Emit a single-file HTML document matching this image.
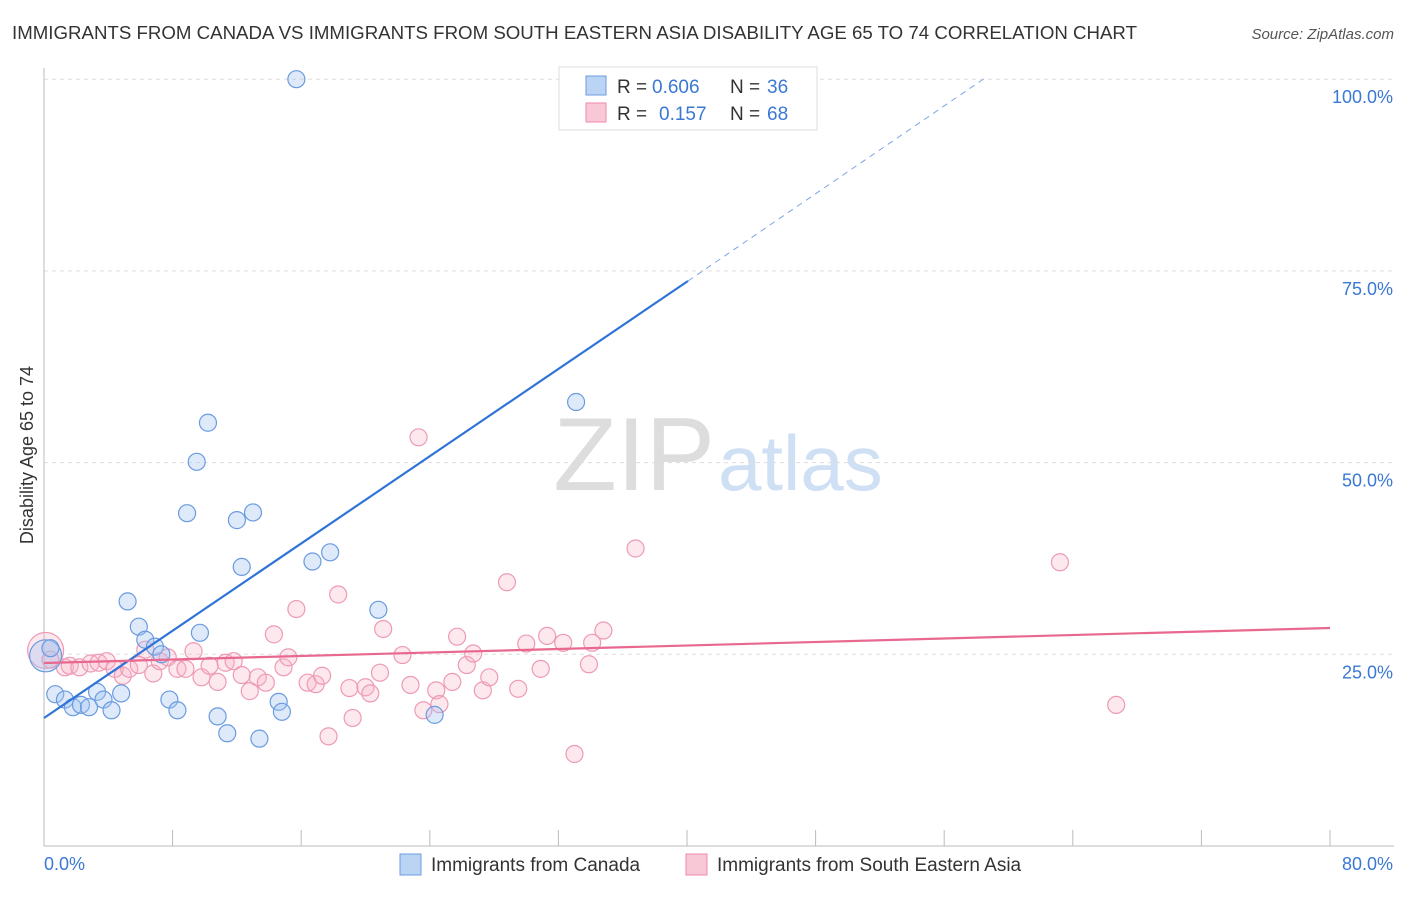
<!DOCTYPE html>
<html><head><meta charset="utf-8"><style>
body{margin:0;background:#fff;font-family:"Liberation Sans",sans-serif;}
svg text{font-family:"Liberation Sans",sans-serif;}
</style></head><body>
<svg id="chart" width="1406" height="892">
<text x="12" y="39" font-size="18" fill="#333" textLength="1125" lengthAdjust="spacingAndGlyphs">IMMIGRANTS FROM CANADA VS IMMIGRANTS FROM SOUTH EASTERN ASIA DISABILITY AGE 65 TO 74 CORRELATION CHART</text>
<text x="1394" y="39" font-size="15" fill="#555" font-style="italic" text-anchor="end">Source: ZipAtlas.com</text>
<text x="715" y="490" font-size="104" fill="#ddd" text-anchor="end" font-family="Liberation Serif">ZIP</text>
<text x="718" y="490" font-size="78" fill="#cfe0f5">atlas</text>
<g id="grid"></g><g id="axes"></g><g id="marks"></g>
<text transform="translate(33,455) rotate(-90)" font-size="18" fill="#333" text-anchor="middle">Disability Age 65 to 74</text>
<g>
<rect x="559" y="67" width="258" height="63" fill="#fff" stroke="#ddd"/>
<rect x="586" y="76" width="20" height="19" fill="#bcd4f4" stroke="#6a9be0"/>
<rect x="586" y="103" width="20" height="19" fill="#f9c8d6" stroke="#ee8aaa"/>
<text x="617" y="93" font-size="19" fill="#333">R =</text>
<text x="652" y="93" font-size="19" fill="#3a78d4">0.606</text>
<text x="730" y="93" font-size="19" fill="#333">N =</text>
<text x="767" y="93" font-size="19" fill="#3a78d4">36</text>
<text x="617" y="120" font-size="19" fill="#333">R =</text>
<text x="659" y="120" font-size="19" fill="#3a78d4">0.157</text>
<text x="730" y="120" font-size="19" fill="#333">N =</text>
<text x="767" y="120" font-size="19" fill="#3a78d4">68</text>
</g>
<g>
<rect x="400" y="854" width="21" height="21" fill="#bcd4f4" stroke="#6a9be0"/>
<text x="431" y="871" font-size="19" fill="#333">Immigrants from Canada</text>
<rect x="686" y="854" width="21" height="21" fill="#f9c8d6" stroke="#ee8aaa"/>
<text x="717" y="871" font-size="19" fill="#333">Immigrants from South Eastern Asia</text>
</g>
</svg>
<script>
const blueX=[15.7,33.1,10.2,9.5,8.9,12,13,12.3,16.7,17.8,20.8,5.2,5.9,6.3,9.7,6.9,7.3,0.7,1.3,1.8,2.3,2.8,3.3,3.7,4.2,4.8,7.8,8.3,10.8,11.4,13.4,14.6,14.8,24.3,0.1,0.4];
const blueY=[100,57.9,55.2,50.1,43.4,42.5,43.5,36.4,37.1,38.3,30.8,31.9,28.6,26.9,27.8,26,25,19.8,19.1,18.1,18.4,18.1,20.1,19.1,17.7,19.9,19.1,17.7,16.9,14.7,14,18.8,17.5,17.1,24.8,25.8];
const pinkX=[0.1,0.4,1.3,1.6,2.2,2.9,3.4,3.9,4.4,4.9,5.3,5.9,6.3,6.8,7.2,7.7,8.3,8.8,9.3,9.8,10.3,10.8,11.3,11.8,12.3,12.8,13.3,13.8,14.3,14.9,15.2,15.7,16.4,16.9,17.3,17.7,18.3,19,19.2,20,20.3,20.9,21.1,22.3,22.8,23.3,23.6,24.4,24.6,25.4,25.7,26.3,26.7,27.3,27.7,28.8,29.5,30,30.9,31.3,32.3,33,33.9,34.1,34.8,36.8,63.2,66.7];
const pinkY=[25.5,24.3,23.3,23.5,23.3,23.8,23.9,24.1,23.1,22.2,23.1,23.6,25.6,22.5,24.1,24.6,23.1,23.1,25.4,22,23.5,21.4,23.9,24.1,22.3,20.2,22,21.3,27.6,23.3,24.6,30.9,21.3,21.1,22.2,14.3,32.8,20.6,16.7,20.7,19.9,22.6,28.3,24.9,21,53.3,17.7,20.3,18.5,21.4,27.3,23.6,25.1,20.3,22,34.4,20.5,26.4,23.1,27.4,26.5,12,23.7,26.5,28.1,38.8,37,18.4];
const X=v=>44+v*1286/80, Y=v=>846-v*7.668;
const ns="http://www.w3.org/2000/svg";
function mk(t,a,parent){const e=document.createElementNS(ns,t);for(const k in a)e.setAttribute(k,a[k]);document.getElementById(parent).appendChild(e);return e;}
const yt=[25,50,75,100], yl=["25.0%","50.0%","75.0%","100.0%"];
yt.forEach((v,i)=>{
 let g=mk('line',{x1:44,x2:1394,y1:Y(v),y2:Y(v),stroke:'#ddd','stroke-dasharray':'4 4'},'grid');
 
 
 let t=mk('text',{x:1393,y:Y(v)+24,'font-size':18,fill:'#3a78d4','text-anchor':'end'},'axes');t.textContent=yl[i];
 
 
});
mk('line',{x1:44,x2:44,y1:68,y2:846,stroke:'#bbb'},'axes');
mk('line',{x1:44,x2:1394,y1:846,y2:846,stroke:'#bbb'},'axes');
for(let i=0;i<=10;i++){let l=mk('line',{x1:X(i*8),x2:X(i*8),y1:830,y2:846,stroke:'#bbb'},'axes');
 
 }
[["0.0%",44,'start'],["80.0%",1393,'end']].forEach(a=>{let t=mk('text',{x:a[1],y:870,'font-size':18,fill:'#3a78d4','text-anchor':a[2]},'axes');t.textContent=a[0];
 
 });
pinkX.forEach((x,i)=>{let c=mk('circle',{cx:X(x),cy:Y(pinkY[i]),r:i==0?18:8.5,fill:'rgba(248,180,200,0.3)',stroke:'#ee9ab5','stroke-width':1.2},'marks');
 
 });
blueX.forEach((x,i)=>{let c=mk('circle',{cx:X(x),cy:Y(blueY[i]),r:i==34?16:8.5,fill:'rgba(160,195,240,0.35)',stroke:'#6a9be0','stroke-width':1.2},'marks');
 
 });
let b=mk('line',{x1:44,y1:718,x2:688,y2:281,stroke:'#2f74d6','stroke-width':2.2},'marks');


let bd=mk('line',{x1:688,y1:281,x2:985,y2:78,stroke:'#7aa6e6','stroke-width':1,'stroke-dasharray':'6 5'},'marks');


let p=mk('line',{x1:44,y1:663,x2:1330,y2:628,stroke:'#e8688f','stroke-width':2.2},'marks');


</script>
</body></html>
